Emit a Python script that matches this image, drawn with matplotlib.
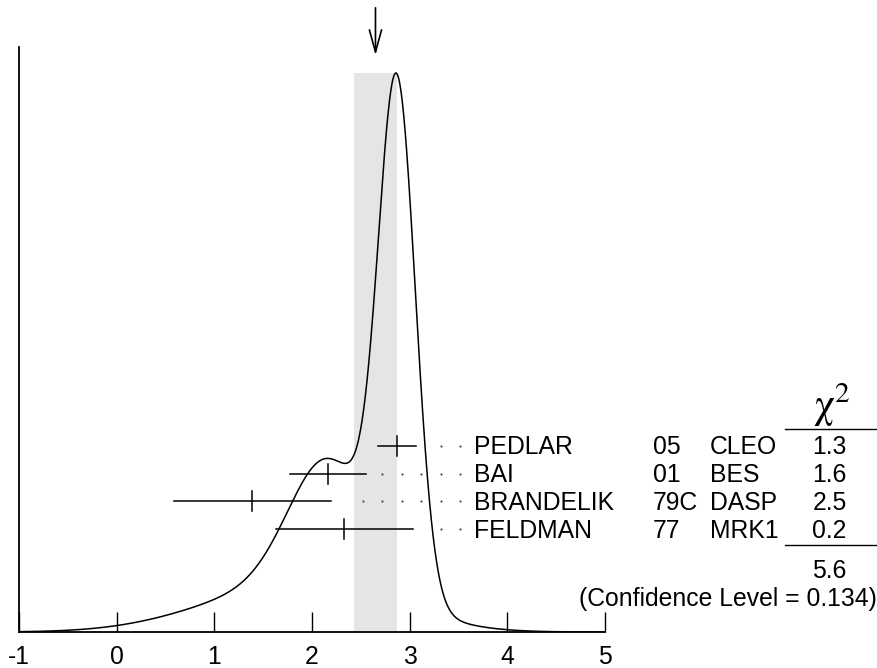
import numpy as np
import matplotlib.pyplot as plt
from matplotlib import transforms

plt.rcParams['font.family'] = ['Liberation Sans', 'DejaVu Sans']

# measurements going into the average
names = ['PEDLAR', 'BAI', 'BRANDELIK', 'FELDMAN']
years = ['05', '01', '79C', '77']
experiments = ['CLEO', 'BES', 'DASP', 'MRK1']
values = [2.87, 2.16, 1.39, 2.33]
errors = [0.19, 0.39, 0.80, 0.70]
chi2 = ['1.3', '1.6', '2.5', '0.2']
chi2_total = '5.6'
conf_level = '0.134'
avg, avg_err = 2.65, 0.22
xticks = [-1, 0, 1, 2, 3, 4, 5]

W, H = 878, 668
fig = plt.figure(figsize=(W / 100, H / 100), dpi=100)
ax = fig.add_axes([19 / W, 1 - 632 / H, (605 - 19) / W, (632 - 47) / H])


def fy(py):
    # pixel row -> figure fraction
    return 1 - py / H


trans = transforms.blended_transform_factory(ax.transData, fig.transFigure)
FS = 17.8

# ideogram: each measurement is a gaussian with area proportional to 1/sigma
x = np.linspace(-1, 5, 1500)
ideo = sum(np.exp(-0.5 * ((x - v) / e) ** 2) / e ** 2 for v, e in zip(values, errors))
ax.plot(x, ideo, color='k', lw=1.1, zorder=3)
ax.fill_between([avg - avg_err, avg + avg_err], 0, ideo.max(),
                color='#e5e5e5', lw=0, zorder=0)
ax.set_xlim(-1, 5)
ax.set_ylim(0, ideo.max() * (632 - 47) / (632 - 73))

for side in ['top', 'right']:
    ax.spines[side].set_visible(False)
for side in ['left', 'bottom']:
    ax.spines[side].set_linewidth(1.3)
ax.set_yticks([])
ax.set_xticks(xticks)
ax.set_xticklabels([str(t) for t in xticks])
ax.tick_params(axis='x', direction='in', length=14.5, width=1.0, pad=9, labelsize=FS)

# arrow marking the weighted average
ax.annotate('', xy=(avg, fy(58)), xytext=(avg, fy(5)), xycoords=trans, textcoords=trans,
            arrowprops=dict(arrowstyle='->,head_length=0.8,head_width=0.22', lw=1.2,
                            color='k', mutation_scale=20),
            annotation_clip=False)

# error bars, leader dots and table rows
dot_grid = 3.52 - 0.2 * np.arange(12)
for i, (v, e) in enumerate(zip(values, errors)):
    py = 446 + 27.7 * i
    ax.plot([v - e, v + e], [fy(py)] * 2, transform=trans, color='k', lw=1.1, clip_on=False)
    ax.plot([v, v], [fy(py - 10), fy(py + 10)], transform=trans, color='k', lw=1.1, clip_on=False)
    dots = dot_grid[dot_grid >= v + e + 0.15]
    ax.plot(dots, [fy(py)] * len(dots), 's', ms=1.3, mew=0, color='#333333',
            transform=trans, clip_on=False)
    base = fy(py + 8.5)
    ax.text(3.66, base, names[i], transform=trans, fontsize=FS, va='baseline')
    ax.text(5.49, base, years[i], transform=trans, fontsize=FS, va='baseline')
    ax.text(6.07, base, experiments[i], transform=trans, fontsize=FS, va='baseline')
    ax.text(7.30, base, chi2[i], transform=trans, fontsize=FS, va='baseline', ha='center')

ax.text(7.32, fy(418), r'$\mathrm{\chi}^2$', transform=trans, fontsize=30, math_fontfamily='stix',
        ha='center', va='baseline')
for py in [429, 545]:
    ax.plot([6.84, 7.79], [fy(py)] * 2, transform=trans, color='k', lw=1.0, clip_on=False)
ax.text(7.30, fy(578), chi2_total, transform=trans, fontsize=FS, va='baseline', ha='center')
ax.text(7.78, fy(606), f'(Confidence Level = {conf_level})', transform=trans,
        fontsize=FS, va='baseline', ha='right')

fig.savefig('out.png', dpi=100)
